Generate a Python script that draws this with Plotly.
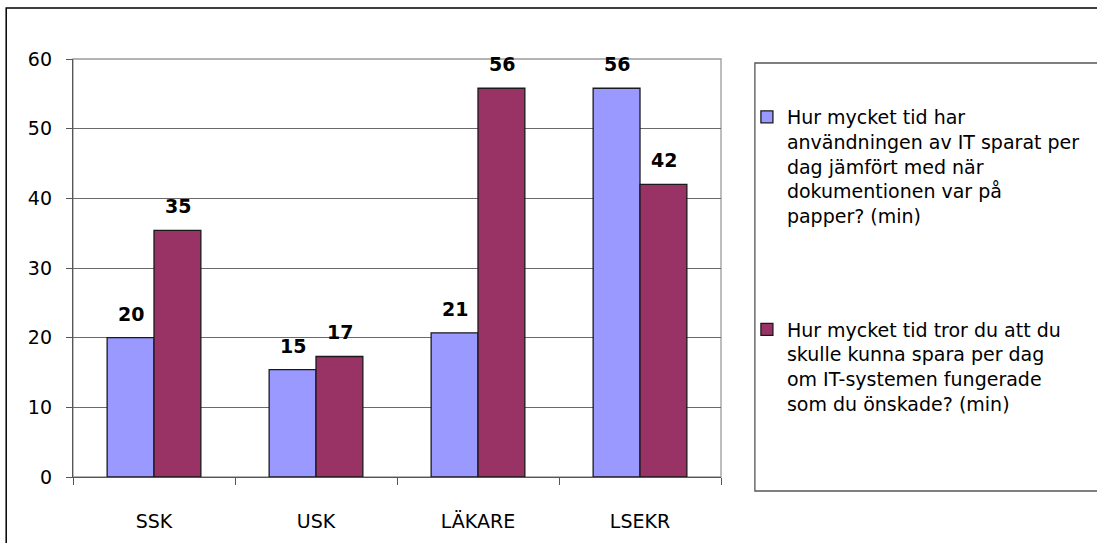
import plotly.graph_objects as go

categories = ["SSK", "USK", "LÄKARE", "LSEKR"]
saved_values = [20.0, 15.4, 20.7, 55.8]
could_save_values = [35.4, 17.3, 55.8, 42.0]
series_names = [
    "Hur mycket tid har<br>användningen av IT sparat per<br>dag jämfört med när<br>dokumentionen var på<br>papper? (min)",
    "Hur mycket tid tror du att du<br>skulle kunna spara per dag<br>om IT-systemen fungerade<br>som du önskade? (min)",
]
y_ticks = [0, 10, 20, 30, 40, 50, 60]

FONT = "DejaVu Sans"
W, H = 1097, 543
L, R, T, B = 73, 374, 59, 66

fig = go.Figure()
fig.add_trace(go.Bar(
    x=categories, y=saved_values, name=series_names[0],
    marker=dict(color="#9999FF", line=dict(color="#1a1a1a", width=1.3)),
    legendgroup="a",
))
fig.add_trace(go.Bar(
    x=categories, y=could_save_values, name=series_names[1],
    marker=dict(color="#993366", line=dict(color="#1a1a1a", width=1.3)),
    legendgroup="b",
))

# data labels
bar_half = 23.5
for vals, sign in ((saved_values, -1), (could_save_values, 1)):
    for c, v in zip(categories, vals):
        fig.add_annotation(
            x=c, y=v, xref="x", yref="y", text="<b>%d</b>" % round(v),
            showarrow=False, xshift=sign * bar_half, yshift=11, yanchor="bottom",
            font=dict(family=FONT, size=19, color="black"),
        )

# plot area border (gray)
fig.add_shape(type="rect", xref="paper", yref="paper", x0=0, x1=1, y0=0, y1=1,
              line=dict(color="#9a9a9a", width=1.3), layer="below")
# outer chart border
fig.add_shape(type="rect", xref="paper", yref="paper",
              x0=(6 - L) / 650, x1=2.0, y0=-0.5, y1=(477 - 8) / 418,
              line=dict(color="black", width=1.5))
# legend box
fig.add_shape(type="rect", xref="paper", yref="paper",
              x0=(757 - L) / 650, x1=2.0, y0=(477 - 491) / 418, y1=(477 - 63) / 418,
              line=dict(color="#555555", width=1.3))

fig.update_layout(
    width=W, height=H,
    margin=dict(l=L, r=R, t=T, b=B),
    paper_bgcolor="white", plot_bgcolor="white",
    barmode="group", bargap=0.4215, bargroupgap=0,
    font=dict(family=FONT, size=19, color="black"),
    showlegend=True,
    legend=dict(
        x=(749 - L) / 650, xanchor="left",
        y=(477 - 98) / 418, yanchor="top",
        bgcolor="rgba(0,0,0,0)", borderwidth=0,
        font=dict(family=FONT, size=19, color="black"),
        tracegroupgap=86, traceorder="grouped", valign="top",
        itemclick=False,
    ),
    xaxis=dict(
        type="category", showgrid=False, showline=True, linecolor="#555555", linewidth=1.3,
        ticks="outside", tickson="boundaries", ticklen=7, tickcolor="#555555",
        tickfont=dict(family=FONT, size=19, color="black"),
        ticklabelstandoff=27,
    ),
    yaxis=dict(
        range=[0, 60], tickvals=y_ticks, showgrid=True, gridcolor="#6a6a6a", gridwidth=1,
        showline=True, linecolor="#555555", linewidth=1.3,
        ticks="outside", ticklen=6, tickcolor="#555555",
        tickfont=dict(family=FONT, size=19, color="black"),
        ticklabelstandoff=10, zeroline=False,
    ),
)

fig.write_html("out.html")
